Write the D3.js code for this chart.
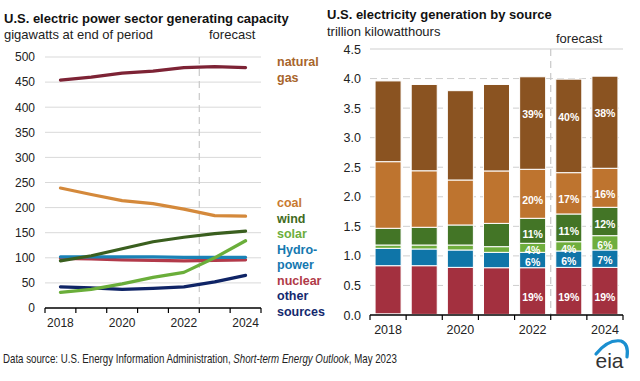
<!DOCTYPE html>
<html>
<head>
<meta charset="utf-8">
<script src="https://cdn.jsdelivr.net/npm/d3@7"></script>
<style>
  body { margin: 0; background: #fff; }
  svg { display: block; font-family: "Liberation Sans", Arial, sans-serif; }
</style>
</head>
<body>
<svg id="chart" width="640" height="381"></svg>
<script>
// Years shown on both panels
const years = [2018, 2019, 2020, 2021, 2022, 2023, 2024];
const evenYears = [2018, 2020, 2022, 2024];

// Left panel: generating capacity, gigawatts at end of period
const capGas     = [454, 460, 468, 472, 479, 481, 479];
const capCoal    = [239, 226, 214, 208, 197, 184, 183];
const capWind    = [94, 104, 118, 132, 141, 148, 153];
const capSolar   = [31, 37, 48, 61, 71, 100, 134];
const capHydro   = [102, 102, 102, 102, 101, 101, 101];
const capNuclear = [99, 98, 96, 95, 94, 95, 96];
const capOther   = [42, 40, 37, 39, 42, 52, 65];
const capTicks   = [0, 50, 100, 150, 200, 250, 300, 350, 400, 450, 500];

// Right panel: generation by source, trillion kWh (stack bottom to top)
const genOther   = [0.02, 0.01, 0.01, 0.01, 0.01, 0.01, 0.01];
const genNuclear = [0.814, 0.824, 0.796, 0.79, 0.79, 0.796, 0.796];
const genHydro   = [0.294, 0.283, 0.294, 0.26, 0.26, 0.277, 0.294];
const genSolar   = [0.056, 0.067, 0.084, 0.096, 0.153, 0.157, 0.242];
const genWind    = [0.283, 0.300, 0.339, 0.394, 0.423, 0.469, 0.48];
const genCoal    = [1.127, 0.956, 0.761, 0.887, 0.829, 0.699, 0.66];
const genGas     = [1.366, 1.46, 1.511, 1.463, 1.565, 1.582, 1.558];
const genTicks   = [0, 0.5, 1, 1.5, 2, 2.5, 3, 3.5, 4, 4.5];

// Share labels printed inside the forecast-era bars
const pctNuclear = [null, null, null, null, "19%", "19%", "19%"];
const pctHydro   = [null, null, null, null, "6%", "6%", "7%"];
const pctSolar   = [null, null, null, null, "4%", "4%", "6%"];
const pctWind    = [null, null, null, null, "11%", "11%", "12%"];
const pctCoal    = [null, null, null, null, "20%", "17%", "16%"];
const pctGas     = [null, null, null, null, "39%", "40%", "38%"];

const svg = d3.select("#chart");
const textColor = "#222";

// squeeze a text element horizontally so it spans the given width
function fitWidth(sel, w) {
  const node = sel.node();
  const len = node.getComputedTextLength();
  const x = +sel.attr("x");
  if (len > w) sel.attr("transform", `translate(${x},0) scale(${w / len},1) translate(${-x},0)`);
}

// ---------- Left panel ----------
const xL = d3.scaleBand().domain(years).range([45, 261]);
const yL = d3.scaleLinear().domain([0, 500]).range([308, 57]);

svg.append("text").attr("x", 4).attr("y", 22.5)
  .style("font-size", "13px").style("font-weight", "bold").attr("fill", "#111")
  .text("U.S. electric power sector generating capacity");
svg.append("text").attr("x", 4).attr("y", 38.5)
  .style("font-size", "13px").attr("fill", textColor)
  .text("gigawatts at end of period");
svg.append("text").attr("x", 209).attr("y", 38.5)
  .style("font-size", "13px").attr("fill", textColor)
  .text("forecast");

// gridlines
svg.append("g").selectAll("line")
  .data(capTicks.filter(d => d > 0))
  .enter().append("line")
  .attr("x1", 45).attr("x2", 261)
  .attr("y1", d => yL(d)).attr("y2", d => yL(d))
  .attr("stroke", "#d9d9d9").attr("stroke-width", 1);

// y labels
const yAxisL = svg.append("g").attr("transform", "translate(45,0)")
  .call(d3.axisLeft(yL).tickValues(capTicks).tickSize(0).tickPadding(10));
yAxisL.select(".domain").remove();
yAxisL.selectAll("text").style("font-size", "12px").style("font-family", "inherit").attr("fill", textColor);

// forecast divider
svg.append("line")
  .attr("x1", xL(2023)).attr("x2", xL(2023))
  .attr("y1", yL(500)).attr("y2", yL(0))
  .attr("stroke", "#c8c8c8").attr("stroke-width", 1.2).attr("stroke-dasharray", "7,5");

// x axis
const xAxisL = svg.append("g").attr("transform", `translate(0,${yL(0)})`)
  .call(d3.axisBottom(xL).tickValues(evenYears).tickSize(0).tickPadding(10));
xAxisL.select(".domain").remove();
xAxisL.selectAll("text").style("font-size", "12px").style("font-family", "inherit").attr("fill", textColor);
svg.append("line").attr("x1", 45).attr("x2", 261)
  .attr("y1", yL(0)).attr("y2", yL(0)).attr("stroke", "#000").attr("stroke-width", 1.3);
svg.append("g").selectAll("line")
  .data(years.map(d => xL(d)).concat([xL(2024) + xL.bandwidth()]))
  .enter().append("line")
  .attr("x1", d => d).attr("x2", d => d)
  .attr("y1", yL(0)).attr("y2", yL(0) + 5)
  .attr("stroke", "#000").attr("stroke-width", 1.2);

// lines
const capSeries = [
  { values: capOther,   color: "#0f2466" },
  { values: capNuclear, color: "#b23a4a" },
  { values: capHydro,   color: "#1a82b6" },
  { values: capWind,    color: "#3a5f1f" },
  { values: capSolar,   color: "#6aae3a" },
  { values: capCoal,    color: "#d4893b" },
  { values: capGas,     color: "#7d2335" }
];
const line = d3.line()
  .x((d, i) => xL(years[i]) + xL.bandwidth() / 2)
  .y(d => yL(d));
svg.append("g").selectAll("path")
  .data(capSeries)
  .enter().append("path")
  .attr("d", d => line(d.values))
  .attr("fill", "none")
  .attr("stroke", d => d.color)
  .attr("stroke-width", 3.2)
  .attr("stroke-linecap", "round")
  .attr("stroke-linejoin", "round");

// legend labels
const legendL = [
  { lines: ["natural", "gas"], color: "#a8652b", y: 66 },
  { lines: ["coal"], color: "#c97a30", y: 207 },
  { lines: ["wind"], color: "#3f6b22", y: 222.5 },
  { lines: ["solar"], color: "#6dae3c", y: 238 },
  { lines: ["Hydro-", "power"], color: "#1478b0", y: 253.5 },
  { lines: ["nuclear"], color: "#b03a48", y: 284.5 },
  { lines: ["other", "sources"], color: "#14286e", y: 300 }
];
legendL.forEach(item => {
  item.lines.forEach((t, i) => {
    svg.append("text")
      .attr("x", 277).attr("y", item.y + i * 15.5)
      .style("font-size", "12.5px").style("font-weight", "bold")
      .attr("fill", item.color).text(t);
  });
});

// ---------- Right panel ----------
const xR = d3.scaleBand().domain(years).range([370, 623]);
const xBar = d3.scaleBand().domain(years).range([370, 623]).paddingInner(0.28).paddingOuter(0.14);
const yR = d3.scaleLinear().domain([0, 4.5]).range([315, 49]);

svg.append("text").attr("x", 327).attr("y", 18.5)
  .style("font-size", "13px").style("font-weight", "bold").attr("fill", "#111")
  .text("U.S. electricity generation by source");
svg.append("text").attr("x", 327).attr("y", 35.5)
  .style("font-size", "13px").attr("fill", textColor)
  .text("trillion kilowatthours");
svg.append("text").attr("x", 556).attr("y", 42.5)
  .style("font-size", "13px").attr("fill", textColor)
  .text("forecast");

// gridlines
svg.append("g").selectAll("line")
  .data(genTicks.filter(d => d > 0))
  .enter().append("line")
  .attr("x1", 370).attr("x2", 623)
  .attr("y1", d => yR(d)).attr("y2", d => yR(d))
  .attr("stroke", "#cfcfcf").attr("stroke-width", 1)
  .attr("stroke-dasharray", d => d === 4.5 ? null : "7,4");

const yAxisR = svg.append("g").attr("transform", "translate(370,0)")
  .call(d3.axisLeft(yR).tickValues(genTicks).tickFormat(d3.format(".1f")).tickSize(0).tickPadding(9));
yAxisR.select(".domain").remove();
yAxisR.selectAll("text").style("font-size", "12.5px").style("font-family", "inherit").attr("fill", textColor);

// stacked bars (shift = nudge of the share label, px)
const genSeries = [
  { key: "other",   values: genOther,   color: "#17245e", pct: null,       shift: 0 },
  { key: "nuclear", values: genNuclear, color: "#a3303f", pct: pctNuclear, shift: 6 },
  { key: "hydro",   values: genHydro,   color: "#0f75a8", pct: pctHydro,   shift: 2 },
  { key: "solar",   values: genSolar,   color: "#6fae3d", pct: pctSolar,   shift: 2.5 },
  { key: "wind",    values: genWind,    color: "#437526", pct: pctWind,    shift: 3 },
  { key: "coal",    values: genCoal,    color: "#be742f", pct: pctCoal,    shift: 6 },
  { key: "gas",     values: genGas,     color: "#8a5321", pct: pctGas,     shift: -9 }
];
const table = years.map((yr, i) => {
  const row = { year: yr };
  genSeries.forEach(s => row[s.key] = s.values[i]);
  return row;
});
const stacked = d3.stack().keys(genSeries.map(s => s.key))(table);

const layers = svg.append("g").selectAll("g")
  .data(stacked)
  .enter().append("g")
  .attr("fill", (d, i) => genSeries[i].color);
layers.selectAll("rect")
  .data(d => d)
  .enter().append("rect")
  .attr("x", d => xBar(d.data.year))
  .attr("width", xBar.bandwidth())
  .attr("y", d => yR(d[1]))
  .attr("height", d => yR(d[0]) - yR(d[1]))
  .attr("stroke", "#fff")
  .attr("stroke-width", 1);

// percentage labels
stacked.forEach((layer, li) => {
  const s = genSeries[li];
  if (!s.pct) return;
  svg.append("g").selectAll("text")
    .data(layer.filter((d, i) => s.pct[i]))
    .enter().append("text")
    .attr("x", d => xBar(d.data.year) + xBar.bandwidth() / 2)
    .attr("y", d => yR((d[0] + d[1]) / 2) + s.shift)
    .attr("dy", "0.36em")
    .attr("text-anchor", "middle")
    .style("font-size", "10.5px").style("font-weight", "bold")
    .attr("fill", "#fff")
    .text(d => s.pct[years.indexOf(d.data.year)]);
});

// forecast divider
svg.append("line")
  .attr("x1", xR(2023)).attr("x2", xR(2023))
  .attr("y1", yR(4.5)).attr("y2", yR(0))
  .attr("stroke", "#c8c8c8").attr("stroke-width", 1.2).attr("stroke-dasharray", "7,5");

// x axis
const xAxisR = svg.append("g").attr("transform", `translate(0,${yR(0)})`)
  .call(d3.axisBottom(xR).tickValues(evenYears).tickSize(0).tickPadding(10));
xAxisR.select(".domain").remove();
xAxisR.selectAll("text").style("font-size", "12.5px").style("font-family", "inherit").attr("fill", textColor);
svg.append("line").attr("x1", 370).attr("x2", 623)
  .attr("y1", yR(0)).attr("y2", yR(0)).attr("stroke", "#000").attr("stroke-width", 1.3);
svg.append("g").selectAll("line")
  .data(years.map(d => xR(d)).concat([xR(2024) + xR.bandwidth()]))
  .enter().append("line")
  .attr("x1", d => d).attr("x2", d => d)
  .attr("y1", yR(0)).attr("y2", yR(0) + 5)
  .attr("stroke", "#000").attr("stroke-width", 1.2);

// ---------- Footer ----------
const source = svg.append("text").attr("x", 3).attr("y", 363)
  .style("font-size", "13px").attr("fill", textColor);
source.append("tspan").text("Data source: U.S. Energy Information Administration, ");
source.append("tspan").style("font-style", "italic").text("Short-term Energy Outlook");
source.append("tspan").text(", May 2023");
fitWidth(source, 394);

// eia logo
svg.append("path")
  .attr("d", "M596,354 Q608,339 621,341 Q629,344 627,357")
  .attr("fill", "none").attr("stroke", "#1a8fd0").attr("stroke-width", 3.2)
  .attr("stroke-linecap", "round");
svg.append("text").attr("x", 609.5).attr("y", 368)
  .attr("text-anchor", "middle")
  .style("font-size", "21px").attr("fill", "#333")
  .text("eia");
</script>
</body>
</html>
